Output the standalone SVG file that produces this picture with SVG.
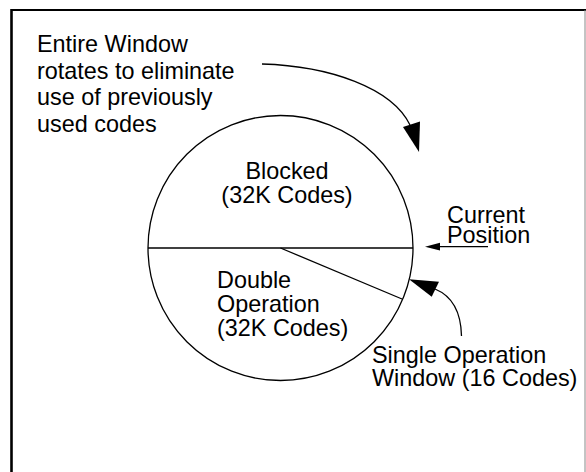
<svg xmlns="http://www.w3.org/2000/svg" width="586" height="472" viewBox="0 0 586 472">
<style>
text{font-family:"Liberation Sans",Arial,sans-serif;font-size:23.4px;fill:#000}
.ln{fill:none;stroke:#000;stroke-width:1.3}
</style>
<rect width="586" height="472" fill="#fff"/>
<g id="frame">
<line x1="11.5" y1="10" x2="586" y2="10" stroke="#000" stroke-width="2.2"/>
<line x1="11.5" y1="9" x2="11.5" y2="472" stroke="#000" stroke-width="2.6"/>
<line x1="585" y1="10" x2="585" y2="472" stroke="#888" stroke-width="1"/>
</g>
<g id="window-circle">
<circle cx="280.5" cy="248" r="132.5" class="ln"/>
<line x1="148" y1="248" x2="413" y2="248" class="ln"/>
<line x1="280.5" y1="248" x2="402" y2="299" class="ln"/>
</g>
<g id="blocked">
<text x="287" y="179" text-anchor="middle">Blocked</text>
<text x="287" y="203" text-anchor="middle">(32K Codes)</text>
</g>
<g id="double">
<text x="217" y="288">Double</text>
<text x="217" y="312">Operation</text>
<text x="217" y="336">(32K Codes)</text>
</g>
<g id="note-rotate">
<text x="37" y="52">Entire Window</text>
<text x="37" y="78.5">rotates to eliminate</text>
<text x="37" y="105">use of previously</text>
<text x="37" y="131.5">used codes</text>
</g>
<g id="current-position">
<text x="447" y="223">Current</text>
<text x="447" y="242.5">Position</text>
</g>
<g id="single-op">
<text x="372" y="363">Single Operation</text>
<text x="372" y="386">Window (16 Codes)</text>
</g>
<g id="connectors">
<path d="M262,64 C330,66 392,88 410,125" class="ln"/>
<polygon points="403,127 420,121.5 419,152"/>
<line x1="488" y1="246.7" x2="436" y2="246.7" class="ln"/>
<polygon points="425,246.7 440,242.8 440,250.6"/>
<path d="M461.5,336 C461,312 452,296 435,289" class="ln"/>
<polygon points="409,279.3 439,281.7 431.7,296.7"/>
</g>
</svg>
